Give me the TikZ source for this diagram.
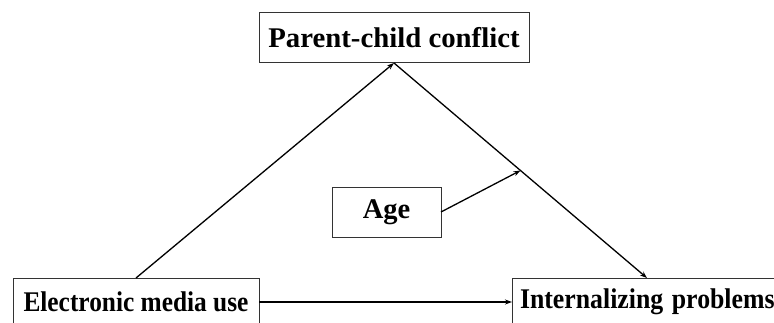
\documentclass[tikz,border=0pt]{standalone}
\usepackage{fontspec}
\usepackage{graphicx}
\setmainfont{Liberation Serif}
\usetikzlibrary{arrows.meta,calc}
\begin{document}
\begin{tikzpicture}[x=1pt,y=1pt,
  box/.style={draw=black!80, line width=1pt, inner sep=0pt, outer sep=0pt,
    font=\fontsize{28.5}{34}\selectfont\bfseries, align=center},
  conn/.style={line width=1.3pt, -{Stealth[length=7pt,width=5pt]}}]
\useasboundingbox (0,0) rectangle (774,322);
\clip (0,0) rectangle (774,322);
\fill[white] (0,0) rectangle (774,322);
\node[box, minimum width=270pt, minimum height=50pt] (top) at (394,284) {\scalebox{1.01}[1]{Parent-child conflict}};
\node[box, minimum width=246pt, minimum height=48pt] (left) at (136,20) {\scalebox{0.89}[1]{Electronic media use}};
\node[box, minimum width=270pt, minimum height=48pt, text width=254pt, align=left] (right) at (647,20) {\scalebox{0.905}[1]{Internalizing problems}};
\node[box, minimum width=109pt, minimum height=50pt] (age) at (386.5,110) {Age};
\draw[conn] (left.north) -- (top.south);
\draw[conn] (top.south) -- (right.north);
\draw[conn] (left.east) -- (right.west);
\coordinate (mid) at ($(top.south)!0.5!(right.north)$);
\draw[conn] (age.east) -- (mid);
\end{tikzpicture}
\end{document}
